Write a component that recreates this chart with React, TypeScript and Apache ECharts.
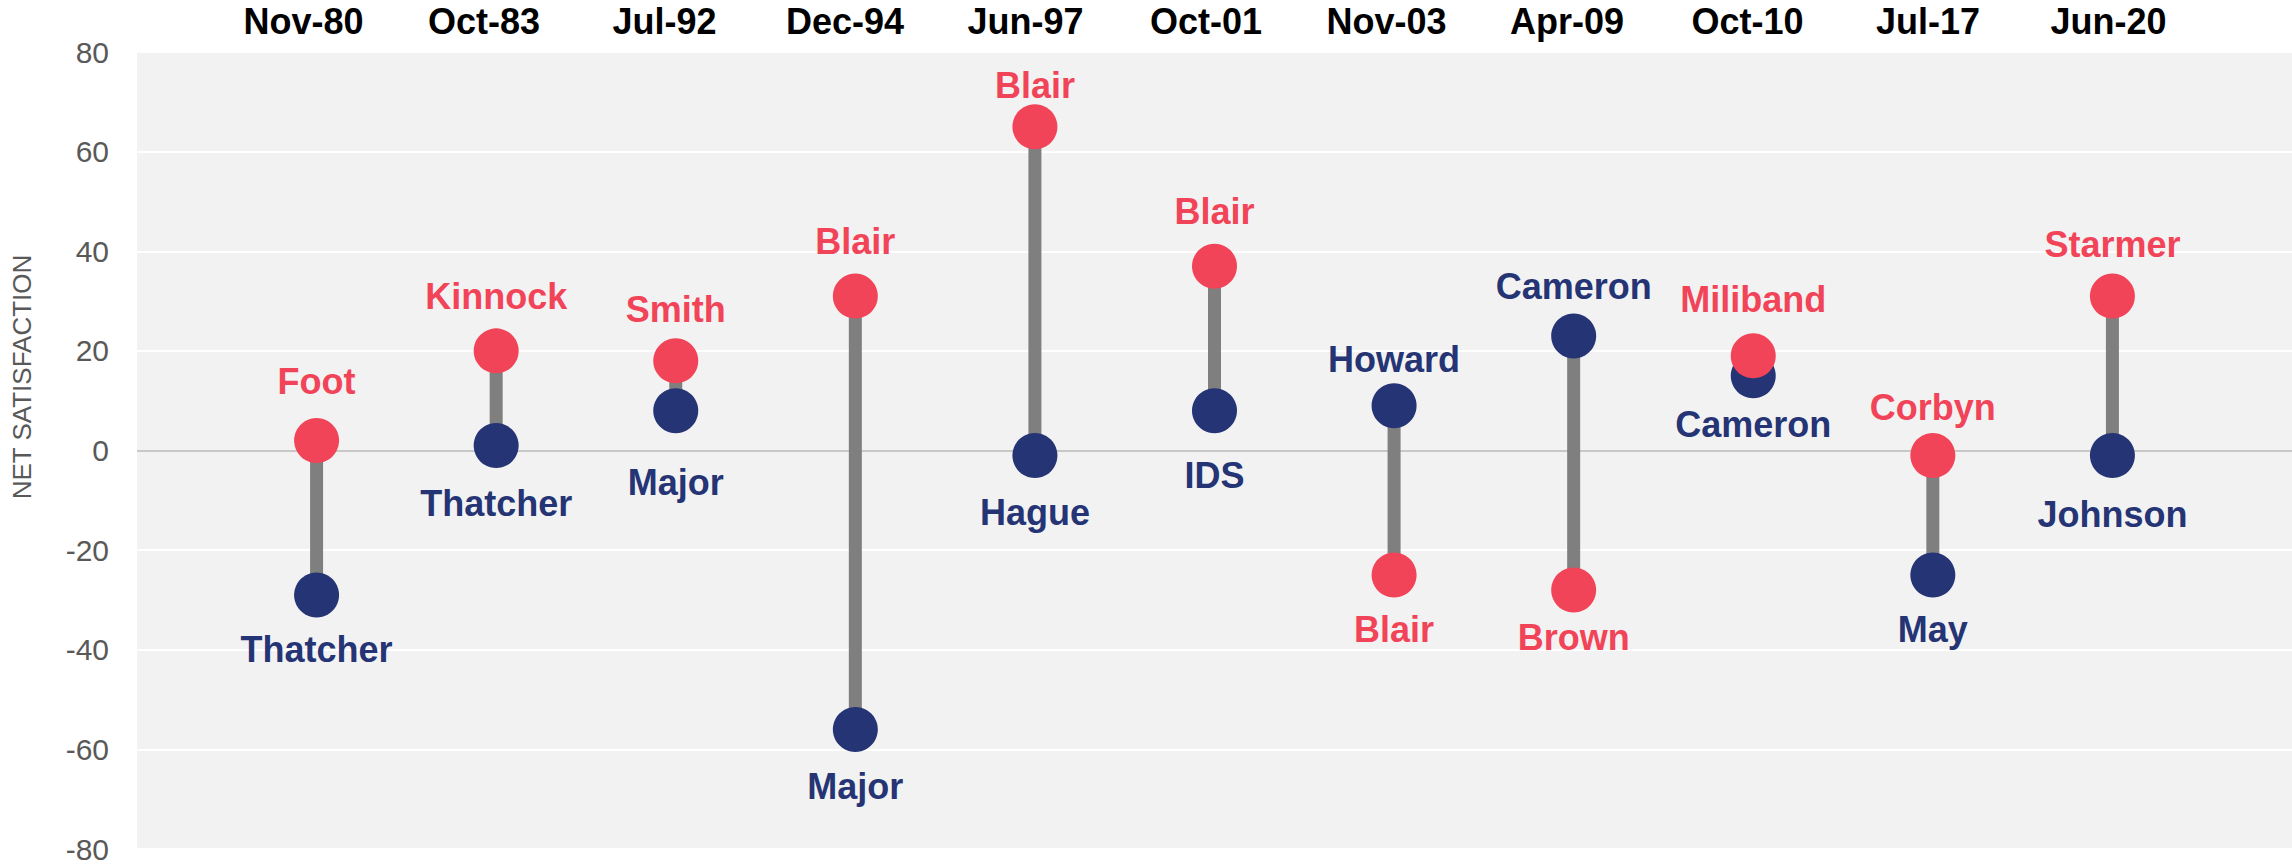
import React, { useEffect, useRef } from "react";
import * as echarts from "echarts";

const dates = ["Nov-80", "Oct-83", "Jul-92", "Dec-94", "Jun-97", "Oct-01", "Nov-03", "Apr-09", "Oct-10", "Jul-17", "Jun-20"];
const labourLeaders = ["Foot", "Kinnock", "Smith", "Blair", "Blair", "Blair", "Blair", "Brown", "Miliband", "Corbyn", "Starmer"];
const labourValues = [2, 20, 18, 31, 65, 37, -25, -28, 19, -1, 31];
const toryLeaders = ["Thatcher", "Thatcher", "Major", "Major", "Hague", "IDS", "Howard", "Cameron", "Cameron", "May", "Johnson"];
const toryValues = [-29, 1, 8, -56, -1, 8, 9, 23, 15, -25, -1];
const yMin = -80;
const yMax = 80;
const yStep = 20;
const yTitle = "NET SATISFACTION";

// styling: hand-placed label nudges (px, positive = downwards), as in the original
const labourLabelNudge = [-5, 0, 3, 0, 13, 0, 0, -7, -2, 7, 3];
const toryLabelNudge = [0, 3, 17, 3, 3, 10, 8, 5, -6, 0, 5];

const RED = "#F24458";
const NAVY = "#253474";
const FONT = '"Liberation Sans", Arial, sans-serif';

export default function App() {
  const ref = useRef<HTMLDivElement>(null);
  useEffect(() => {
    document.body.style.margin = "0";
    if (!ref.current) return;
    const chart = echarts.init(ref.current, undefined, { renderer: "svg" });

    const splitColors: string[] = [];
    for (let v = yMin; v <= yMax; v += yStep) splitColors.push(v === 0 ? "#c8c8c8" : "#ffffff");

    const labelCommon = {
      show: true,
      formatter: "{b}",
      fontSize: 36,
      fontWeight: "bold" as const,
      fontFamily: FONT,
      distance: 14,
    };

    const option: any = {
      animation: false,
      textStyle: { fontFamily: FONT },
      grid: [
        { left: 137, right: 0, top: 52, bottom: 15, show: true, backgroundColor: "#f2f2f2", borderWidth: 0 },
        { left: 123, top: 52, width: 2194, height: 797, show: false },
      ],
      xAxis: [
        { type: "value", gridIndex: 0, min: 0, max: 12, show: false },
        {
          type: "value",
          gridIndex: 1,
          min: 0,
          max: 12,
          interval: 1,
          position: "top",
          axisLine: { show: false },
          axisTick: { show: false },
          splitLine: { show: false },
          axisLabel: {
            formatter: (v: number) => dates[v - 1] ?? "",
            fontSize: 36,
            fontWeight: "bold",
            color: "#000",
            fontFamily: FONT,
            margin: 13,
          },
        },
      ],
      yAxis: [
        {
          type: "value",
          gridIndex: 0,
          min: yMin,
          max: yMax,
          interval: yStep,
          axisLine: { show: false },
          axisTick: { show: false },
          axisLabel: { fontSize: 30, color: "#595959", margin: 28, fontFamily: FONT },
          splitLine: { show: true, lineStyle: { color: splitColors, width: 2 } },
        },
        { type: "value", gridIndex: 1, min: yMin, max: yMax, show: false },
      ],
      graphic: [
        {
          type: "text",
          x: 22,
          y: 377,
          rotation: Math.PI / 2,
          style: {
            text: yTitle,
            fill: "#595959",
            fontSize: 26,
            fontFamily: FONT,
            align: "center",
            verticalAlign: "middle",
          },
        },
      ],
      series: [
        {
          type: "custom",
          xAxisIndex: 0,
          yAxisIndex: 0,
          silent: true,
          encode: { x: 0, y: [1, 2] },
          data: dates.map((_, i) => [i + 1, Math.min(labourValues[i], toryValues[i]), Math.max(labourValues[i], toryValues[i])]),
          renderItem: (params: any, api: any) => {
            const a = api.coord([api.value(0), api.value(1)]);
            const b = api.coord([api.value(0), api.value(2)]);
            return {
              type: "line",
              shape: { x1: a[0], y1: a[1], x2: b[0], y2: b[1] },
              style: { stroke: "#7f7f7f", lineWidth: 13 },
            };
          },
          z: 2,
        },
        {
          type: "scatter",
          xAxisIndex: 0,
          yAxisIndex: 0,
          symbol: "circle",
          symbolSize: 45,
          itemStyle: { color: NAVY, opacity: 1 },
          data: toryValues.map((v, i) => ({
            name: toryLeaders[i],
            value: [i + 1, v],
            label: { position: v >= labourValues[i] ? "top" : "bottom", offset: [0, toryLabelNudge[i]] },
          })),
          label: { ...labelCommon, color: NAVY },
          z: 3,
        },
        {
          type: "scatter",
          xAxisIndex: 0,
          yAxisIndex: 0,
          symbol: "circle",
          symbolSize: 45,
          itemStyle: { color: RED, opacity: 1 },
          data: labourValues.map((v, i) => ({
            name: labourLeaders[i],
            value: [i + 1, v],
            label: { position: v > toryValues[i] ? "top" : "bottom", offset: [0, labourLabelNudge[i]] },
          })),
          label: { ...labelCommon, color: RED },
          z: 4,
        },
      ],
    };
    chart.setOption(option);
    return () => chart.dispose();
  }, []);
  return <div ref={ref} style={{ width: 2292, height: 864 }} />;
}
